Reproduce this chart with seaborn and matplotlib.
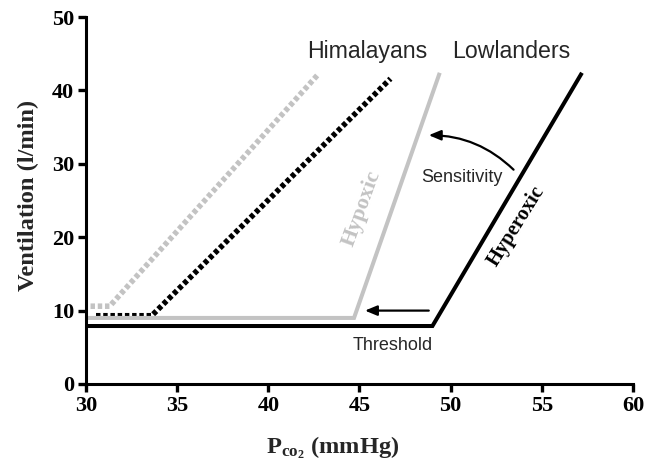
import matplotlib
matplotlib.use("Agg")
import matplotlib.pyplot as plt
import seaborn as sns
import pandas as pd

# Ventilatory response to CO2: piecewise lines (threshold plateau, then linear rise)
pco2_low_hyperoxic = [30.0, 49.0, 57.2]
vent_low_hyperoxic = [7.9, 7.9, 42.4]

pco2_low_hypoxic = [30.0, 44.7, 49.4]
vent_low_hypoxic = [9.0, 9.0, 42.4]

pco2_him_hyperoxic = [30.55, 33.6, 46.7]
vent_him_hyperoxic = [9.3, 9.3, 41.6]

pco2_him_hypoxic = [30.25, 31.3, 42.7]
vent_him_hypoxic = [10.6, 10.6, 42.1]

x_ticks = [30, 35, 40, 45, 50, 55, 60]
y_ticks = [0, 10, 20, 30, 40, 50]

GRAY = "#c3c3c3"
BLACK = "#000000"

sns.set_theme(style="ticks")
plt.rcParams["font.family"] = ["Liberation Serif", "DejaVu Serif"]
plt.rcParams["mathtext.fontset"] = "custom"
plt.rcParams["mathtext.rm"] = "Liberation Serif:bold"
plt.rcParams["mathtext.bf"] = "Liberation Serif:bold"
plt.rcParams["mathtext.it"] = "Liberation Serif:bold"

fig = plt.figure(figsize=(6.45, 4.65), dpi=100)
ax = fig.add_axes([0.1333, 0.1742, 0.8481, 0.7892])

series = [
    (pco2_him_hypoxic, vent_him_hypoxic, GRAY, "dotted"),
    (pco2_him_hyperoxic, vent_him_hyperoxic, BLACK, "dotted"),
    (pco2_low_hypoxic, vent_low_hypoxic, GRAY, "solid"),
    (pco2_low_hyperoxic, vent_low_hyperoxic, BLACK, "solid"),
]
for xs, ys, col, style in series:
    df = pd.DataFrame({"pco2": xs, "vent": ys})
    if style == "dotted":
        sns.lineplot(data=df, x="pco2", y="vent", ax=ax, sort=False, estimator=None,
                     color=col, linewidth=4.0, linestyle=(0, (0.8, 0.5)),
                     dash_capstyle="butt", clip_on=False)
    else:
        sns.lineplot(data=df, x="pco2", y="vent", ax=ax, sort=False, estimator=None,
                     color=col, linewidth=2.9, solid_capstyle="butt",
                     solid_joinstyle="miter", clip_on=False)

ax.set_xlim(30, 60)
ax.set_ylim(0, 50)
ax.set_xticks(x_ticks)
ax.set_yticks(y_ticks)
ax.set_xticklabels([str(t) for t in x_ticks], fontweight="bold", fontsize=16)
ax.set_yticklabels([str(t) for t in y_ticks], fontweight="bold", fontsize=16)

for side in ("top", "right"):
    ax.spines[side].set_visible(False)
for side in ("left", "bottom"):
    ax.spines[side].set_linewidth(2.2)
    ax.spines[side].set_color(BLACK)
ax.tick_params(axis="both", direction="out", length=5.5, width=2.4, color=BLACK,
               labelcolor=BLACK, pad=3)

ax.set_xlabel(r"$\mathbf{P_{co_2}}$ (mmHg)", fontsize=17.6, fontweight="bold")
ax.set_ylabel("Ventilation (l/min)", fontsize=17.6, fontweight="bold")
ax.xaxis.set_label_coords(0.45, -0.137)
ax.yaxis.set_label_coords(-0.085, 0.513)

sans = ["Liberation Sans", "DejaVu Sans"]
ax.text(45.4, 45.3, "Himalayans", family=sans, fontsize=16.7, ha="center", va="center")
ax.text(53.3, 45.3, "Lowlanders", family=sans, fontsize=16.7, ha="center", va="center")
ax.text(50.6, 28.2, "Sensitivity", family=sans, fontsize=13, ha="center", va="center")
ax.text(46.8, 5.3, "Threshold", family=sans, fontsize=13, ha="center", va="center")

ax.text(45.1, 23.9, "Hypoxic", fontsize=16, fontweight="bold", color=GRAY,
        rotation=70, ha="center", va="center", rotation_mode="anchor")
ax.text(53.6, 21.5, "Hyperoxic", fontsize=14.8, fontweight="bold", color=BLACK,
        rotation=58, ha="center", va="center", rotation_mode="anchor")

# threshold shift arrow
ax.annotate("", xy=(45.3, 10.0), xytext=(48.8, 10.0),
            arrowprops=dict(arrowstyle="-|>,head_length=0.6,head_width=0.25",
                            color=BLACK, lw=1.6, shrinkA=0, shrinkB=0))
# sensitivity shift arrow
ax.annotate("", xy=(48.8, 33.9), xytext=(53.45, 29.2),
            arrowprops=dict(arrowstyle="-|>,head_length=0.6,head_width=0.25",
                            color=BLACK, lw=1.6, shrinkA=0, shrinkB=0,
                            connectionstyle="arc3,rad=0.2"))

fig.savefig("out.png", dpi=100)
